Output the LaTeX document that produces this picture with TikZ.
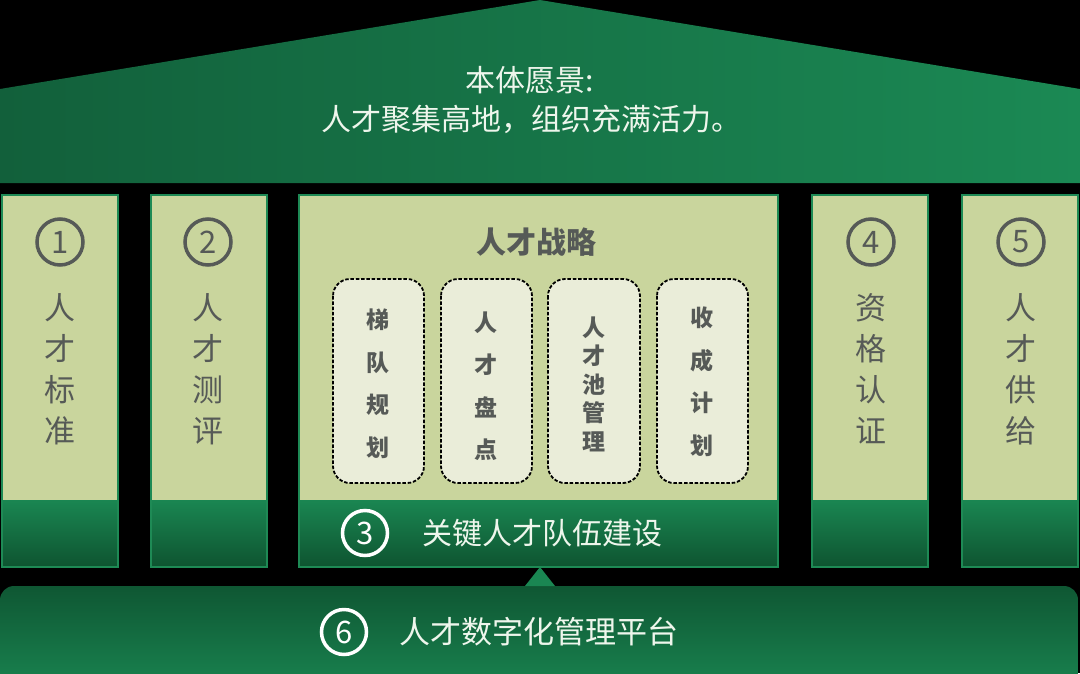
\documentclass[tikz,border=0pt]{standalone}
\usepackage{fontspec}
\setmainfont{Noto Sans CJK SC}
\definecolor{roofL}{HTML}{12603B}
\definecolor{roofR}{HTML}{1B8954}
\definecolor{lightp}{HTML}{C9D59D}
\definecolor{boxfill}{HTML}{EAEDD9}
\definecolor{txtgray}{HTML}{565A57}
\definecolor{gborder}{HTML}{1E8A55}
\definecolor{pillTop}{HTML}{1A8652}
\definecolor{pillBot}{HTML}{0E5430}
\definecolor{platTop}{HTML}{0F5733}
\definecolor{platBot}{HTML}{1A8853}
\definecolor{whitetxt}{HTML}{EEF6EC}
\tikzset{
  numcirc/.style={circle, draw=txtgray, line width=3.5pt, minimum size=46pt, inner sep=0pt, text=txtgray, font=\fontsize{31}{31}\selectfont},
  wcirc/.style={circle, draw=white, line width=3.5pt, minimum size=45pt, inner sep=0pt, text=white, font=\fontsize{31}{31}\selectfont},
  ptext/.style={align=center, text=txtgray, inner sep=0pt, font=\fontsize{31}{41}\selectfont},
  btext/.style={align=center, text=txtgray, inner sep=0pt, font=\bfseries\fontsize{23}{42.5}\selectfont},
  dbox/.style={draw=black, dash pattern=on 3.5pt off 1.8pt, line width=1.8pt, rounded corners=17pt, fill=boxfill},
  wtext/.style={text=whitetxt, inner sep=0pt, font=\fontsize{30}{40}\selectfont},
  pborder/.style={draw=gborder, line width=2pt}
}
\newcommand\mypillar[2]{%
  \fill[lightp] (#1,195) rectangle (#2,500);
  \shade[top color=pillTop, bottom color=pillBot] (#1,500) rectangle (#2,567);
  \draw[pborder] (#1,195) rectangle (#2,567);
}
\begin{document}
\begin{tikzpicture}[x=1pt,y=-1pt]
\useasboundingbox (0,0) rectangle (1080,673);
\fill[black] (0,0) rectangle (1080,673);
% roof
\shade[left color=roofL, right color=roofR] (0,89) -- (540,0) -- (1080,89) -- (1080,183) -- (0,183) -- cycle;
\node[wtext] (vision1) at (530,80) {本体愿景:};
\node[wtext] (vision2) at (531,119) {人才聚集高地，组织充满活力。};
% pillars
\mypillar{2}{118}
\mypillar{151}{267}
\mypillar{299}{778}
\mypillar{812}{928}
\mypillar{962}{1078}
\node[numcirc] (c1) at (60,242) {1};
\node[numcirc] (c2) at (208,242) {2};
\node[numcirc] (c4) at (871,242) {4};
\node[numcirc] (c5) at (1021,242) {5};
\node[ptext] (p1) at (60,369) {人\\才\\标\\准};
\node[ptext] (p2) at (208,369) {人\\才\\测\\评};
\node[ptext] (p4) at (871,369) {资\\格\\认\\证};
\node[ptext] (p5) at (1021,369) {人\\才\\供\\给};
% centre pillar
\node[text=txtgray, inner sep=0pt, font=\bfseries\fontsize{30}{30}\selectfont] (strat) at (536,242) {人才战略};
\draw[dbox] (333,279) rectangle (424,483);
\draw[dbox] (441,279) rectangle (532,483);
\draw[dbox] (548,279) rectangle (640,483);
\draw[dbox] (657,279) rectangle (748,483);
\node[btext] (s1) at (378,384) {梯\\队\\规\\划};
\node[btext] (s2) at (486,386) {人\\才\\盘\\点};
\node[btext, font=\bfseries\fontsize{23}{28.5}\selectfont] (s3) at (594,384) {人\\才\\池\\管\\理};
\node[btext] (s4) at (702,382) {收\\成\\计\\划};
\node[wcirc] (c3) at (365,533) {3};
\node[wtext, anchor=west] (key) at (422,533) {关键人才队伍建设};
% platform
\shade[top color=platTop, bottom color=platBot, rounded corners=14pt] (0,700) -- (0,586) -- (1078,586) -- (1078,700) -- cycle;
\fill[pillTop] (525,586) -- (540,567) -- (555,586) -- cycle;
\node[wcirc] (c6) at (344,632) {6};
\node[wtext, anchor=west, font=\fontsize{31}{31}\selectfont] (plat) at (399,632) {人才数字化管理平台};
\end{tikzpicture}
\end{document}
